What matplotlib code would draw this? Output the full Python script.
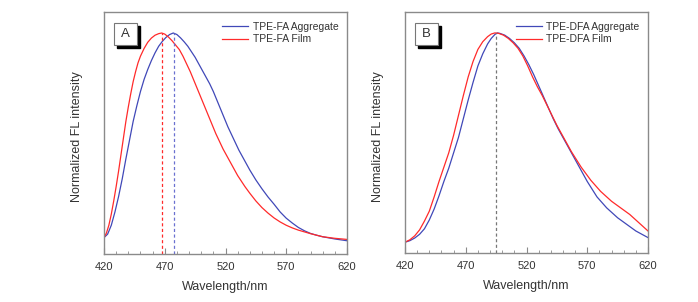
import matplotlib
matplotlib.use("Agg")
import matplotlib.pyplot as plt
from matplotlib.patches import Rectangle

plt.rcParams['font.family'] = ['Liberation Sans', 'DejaVu Sans']

# panel A: TPE-FA
fa_agg_x = [420, 423, 426, 429, 432, 435, 438, 441, 444, 447, 450, 453, 456, 459, 462, 465, 468, 471, 474,
            477, 480, 483, 486, 489, 492, 495, 498, 501, 504, 507, 510, 513, 516, 519, 522, 525, 528, 531,
            534, 537, 540, 545, 550, 555, 560, 565, 570, 575, 580, 585, 590, 595, 600, 610, 620]
fa_agg_y = [0.074, 0.09, 0.13, 0.19, 0.26, 0.34, 0.43, 0.515, 0.60, 0.67, 0.735, 0.79, 0.835, 0.875, 0.91,
            0.94, 0.962, 0.98, 0.993, 1.0, 0.993, 0.978, 0.96, 0.94, 0.915, 0.89, 0.86, 0.83, 0.80, 0.77,
            0.735, 0.695, 0.655, 0.615, 0.575, 0.54, 0.505, 0.47, 0.44, 0.41, 0.38, 0.335, 0.295, 0.258,
            0.225, 0.19, 0.162, 0.14, 0.12, 0.105, 0.093, 0.085, 0.078, 0.068, 0.060]
fa_film_x = [420, 422, 424, 426, 428, 430, 432, 434, 436, 438, 440, 442, 444, 446, 448, 450, 453, 456, 459,
             462, 465, 467.5, 470, 473, 476, 479, 482, 485, 488, 491, 494, 497, 500, 503, 506, 509, 512,
             515, 518, 521, 524, 527, 530, 533, 536, 540, 545, 550, 555, 560, 565, 570, 575, 580, 590,
             600, 610, 620]
fa_film_y = [0.074, 0.095, 0.13, 0.18, 0.24, 0.305, 0.375, 0.45, 0.525, 0.60, 0.665, 0.725, 0.78, 0.825,
             0.865, 0.895, 0.93, 0.958, 0.977, 0.99, 0.997, 1.0, 0.995, 0.982, 0.965, 0.945, 0.925, 0.895,
             0.86, 0.825, 0.785, 0.745, 0.705, 0.665, 0.625, 0.585, 0.545, 0.51, 0.475, 0.445, 0.415,
             0.385, 0.355, 0.33, 0.305, 0.275, 0.24, 0.21, 0.185, 0.163, 0.145, 0.13, 0.118, 0.108,
             0.092, 0.078, 0.071, 0.066]

# panel B: TPE-DFA
dfa_agg_x = [420, 424, 428, 432, 436, 440, 444, 448, 452, 456, 460, 464, 468, 472, 476, 480, 484, 488, 491,
             494, 496, 498, 502, 506, 510, 514, 518, 522, 526, 530, 534, 538, 542, 546, 550, 554, 558, 562,
             566, 570, 574, 578, 582, 586, 590, 595, 600, 605, 610, 615, 620]
dfa_agg_y = [0.049, 0.056, 0.068, 0.085, 0.11, 0.15, 0.20, 0.26, 0.325, 0.385, 0.455, 0.525, 0.61, 0.695,
             0.775, 0.85, 0.905, 0.95, 0.975, 0.993, 1.0, 0.998, 0.99, 0.975, 0.955, 0.93, 0.895, 0.855,
             0.81, 0.76, 0.71, 0.66, 0.61, 0.565, 0.525, 0.485, 0.445, 0.405, 0.365, 0.325, 0.29, 0.255,
             0.23, 0.205, 0.185, 0.16, 0.14, 0.12, 0.10, 0.085, 0.07]
dfa_film_x = [420, 424, 428, 432, 436, 440, 444, 448, 452, 456, 460, 464, 468, 472, 476, 480, 484, 488, 491,
              494, 497, 501, 505, 509, 513, 517, 521, 525, 529, 533, 537, 541, 545, 549, 553, 557, 561, 565,
              569, 573, 577, 581, 585, 590, 595, 600, 605, 610, 615, 620]
dfa_film_y = [0.049, 0.06, 0.078, 0.105, 0.145, 0.19, 0.255, 0.325, 0.39, 0.455, 0.535, 0.625, 0.715, 0.80,
              0.87, 0.925, 0.96, 0.983, 0.995, 1.0, 0.998, 0.99, 0.975, 0.955, 0.93, 0.895, 0.85, 0.80,
              0.755, 0.715, 0.67, 0.625, 0.58, 0.54, 0.50, 0.46, 0.425, 0.39, 0.36, 0.33, 0.305, 0.28,
              0.26, 0.235, 0.215, 0.195, 0.175, 0.15, 0.125, 0.10]

fa_peaks = [477.5, 467.5]   # aggregate, film
dfa_peak = 494.5
xticks = [420, 470, 520, 570, 620]

BLUE = '#4048b8'
RED = '#ff2a2a'
GREY = '#8a8a8a'
TXT = '#333333'

fig = plt.figure(figsize=(6.98, 3.02), dpi=100)
axA = fig.add_axes([104 / 698, 1 - 254 / 302, 243 / 698, 242 / 302])
axB = fig.add_axes([405 / 698, 1 - 253 / 302, 243 / 698, 241 / 302])


def style(ax, letter):
    ax.set_xlim(420, 620)
    ax.set_ylim(0, 1.095)
    ax.set_xticks(xticks)
    ax.set_xticks(range(420, 621, 10), minor=True)
    ax.set_yticks([])
    ax.tick_params(axis='x', which='major', direction='in', length=4, width=0.8, color=GREY,
                   labelsize=8, labelcolor=TXT, pad=6)
    ax.tick_params(axis='x', which='minor', direction='in', length=2, width=0.6, color=GREY)
    for s in ax.spines.values():
        s.set_color(GREY)
        s.set_linewidth(1)
    ax.set_xlabel('Wavelength/nm', fontsize=9, color=TXT, labelpad=6)
    ax.set_ylabel('Normalized FL intensity', fontsize=9, color=TXT)
    ax.yaxis.set_label_coords(-21 / 243, 0.483)
    # letter box with shadow
    ax.add_patch(Rectangle((0.053, 0.852), 0.095, 0.091, transform=ax.transAxes,
                           facecolor='black', edgecolor='black', zorder=4))
    ax.add_patch(Rectangle((0.041, 0.864), 0.095, 0.091, transform=ax.transAxes,
                           facecolor='white', edgecolor='#777777', linewidth=0.8, zorder=5))
    ax.text(0.0885, 0.909, letter, transform=ax.transAxes, ha='center', va='center',
            fontsize=9.5, color=TXT, zorder=6)
    ax.legend(loc='upper right', bbox_to_anchor=(0.99, 0.985), frameon=False, fontsize=7.5,
              handlelength=2.5, handletextpad=0.4, labelspacing=0.25, borderaxespad=0.2,
              labelcolor=TXT)


axA.plot(fa_agg_x, fa_agg_y, color=BLUE, lw=0.9, label='TPE-FA Aggregate')
axA.plot(fa_film_x, fa_film_y, color=RED, lw=0.9, label='TPE-FA Film')
axA.plot([fa_peaks[0], fa_peaks[0]], [0, 1.0], color='#6a70d0', lw=0.9, ls=(0, (2.5, 2)))
axA.plot([fa_peaks[1], fa_peaks[1]], [0, 1.0], color=RED, lw=0.9, ls=(0, (2.5, 2)))
style(axA, 'A')

axB.plot(dfa_agg_x, dfa_agg_y, color=BLUE, lw=0.9, label='TPE-DFA Aggregate')
axB.plot(dfa_film_x, dfa_film_y, color=RED, lw=0.9, label='TPE-DFA Film')
axB.plot([dfa_peak, dfa_peak], [0, 1.0], color='#777777', lw=0.9, ls=(0, (2.5, 2)))
style(axB, 'B')

fig.savefig('out.png', dpi=100)
